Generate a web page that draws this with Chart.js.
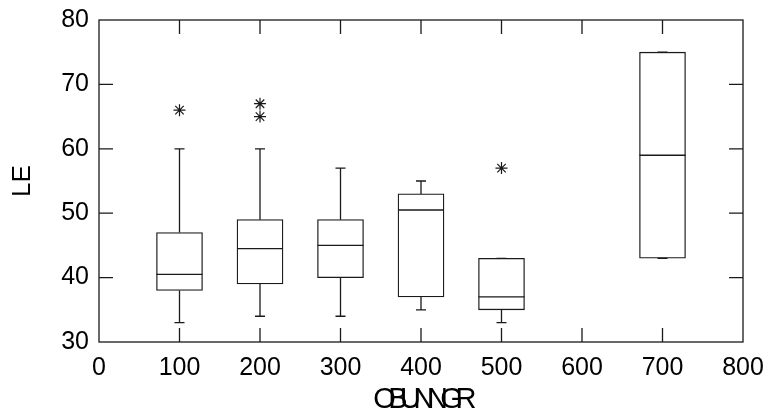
<!DOCTYPE html>
<html>
<head>
<meta charset="utf-8">
<script src="https://cdn.jsdelivr.net/npm/chart.js@4"></script>
<style>
  html, body { margin:0; padding:0; background:#fff; }
  #wrap { width:764px; height:419px; }
</style>
</head>
<body>
<div id="wrap"><canvas id="box"></canvas></div>
<script>
// box plot values
const GROUPS = [100, 200, 300, 400, 500, 700];
const LOW    = [33, 34, 34, 35, 33, 43];
const Q1     = [38, 39, 40, 37, 35, 43];
const MEDIAN = [40.5, 44.5, 45, 50.5, 37, 59];
const Q3     = [47, 49, 49, 53, 43, 75];
const HIGH   = [60, 60, 57, 55, 43, 75];
const OUTLIER_X = [100, 200, 200, 500];
const OUTLIER_Y = [66, 67, 65, 57];

const INK = "#1a1a1a";
const FONT = "'Liberation Sans', Arial, sans-serif";

// the original axis title is condensed: tighten letter spacing for one draw method of a scale
function squeeze(scale, method, px){
  const key = "_sq_" + method;
  if (scale[key]) return;
  const orig = scale[method];
  scale[method] = function(...args){
    const c = this.ctx;
    c.save();
    c.letterSpacing = px;
    orig.apply(this, args);
    c.restore();
  };
  scale[key] = true;
}

// whiskers, caps and medians on top of the bars
const whiskers = {
  id: "whiskers",
  afterDatasetsDraw(chart){
    const { ctx, scales:{ x, y } } = chart;
    const bars = chart.getDatasetMeta(0).data;
    ctx.save();
    ctx.strokeStyle = INK;
    ctx.lineWidth = 1.3;
    GROUPS.forEach((g, i) => {
      const cx = x.getPixelForValue(g);
      const half = bars[i].width / 2;
      const cap = 5;
      ctx.beginPath();
      ctx.moveTo(cx - half, y.getPixelForValue(MEDIAN[i]));
      ctx.lineTo(cx + half, y.getPixelForValue(MEDIAN[i]));
      ctx.moveTo(cx, y.getPixelForValue(Q3[i]));
      ctx.lineTo(cx, y.getPixelForValue(HIGH[i]));
      ctx.moveTo(cx, y.getPixelForValue(Q1[i]));
      ctx.lineTo(cx, y.getPixelForValue(LOW[i]));
      ctx.moveTo(cx - cap, y.getPixelForValue(HIGH[i]));
      ctx.lineTo(cx + cap, y.getPixelForValue(HIGH[i]));
      ctx.moveTo(cx - cap, y.getPixelForValue(LOW[i]));
      ctx.lineTo(cx + cap, y.getPixelForValue(LOW[i]));
      ctx.stroke();
    });
    ctx.restore();
  }
};

// closed frame with inward tick marks on all four sides
const frame = {
  id: "frame",
  afterDraw(chart){
    const { ctx, chartArea:a, scales:{ x, y } } = chart;
    const len = 14;
    ctx.save();
    ctx.strokeStyle = INK;
    ctx.lineWidth = 1.3;
    ctx.strokeRect(a.left, a.top, a.right - a.left, a.bottom - a.top);
    ctx.beginPath();
    x.ticks.slice(1, -1).forEach(t => {
      const px = x.getPixelForValue(t.value);
      ctx.moveTo(px, a.bottom); ctx.lineTo(px, a.bottom - len);
      ctx.moveTo(px, a.top);    ctx.lineTo(px, a.top + len);
    });
    y.ticks.slice(1, -1).forEach(t => {
      const py = y.getPixelForValue(t.value);
      ctx.moveTo(a.left, py);  ctx.lineTo(a.left + len, py);
      ctx.moveTo(a.right, py); ctx.lineTo(a.right - len, py);
    });
    ctx.stroke();
    ctx.restore();
  }
};

new Chart(document.getElementById("box"), {
  type: "bar",
  data: {
    datasets: [
      {
        label: "box",
        data: GROUPS.map((g, i) => ({ x: g, y: [Q1[i], Q3[i]] })),
        backgroundColor: "#fff",
        borderColor: INK,
        borderWidth: 1.3,
        borderSkipped: false,
        barThickness: 46
      },
      {
        type: "scatter",
        label: "outliers",
        data: OUTLIER_X.map((v, i) => ({ x: v, y: OUTLIER_Y[i] })),
        pointStyle: "star",
        radius: 6,
        borderColor: INK,
        borderWidth: 1.2,
        backgroundColor: INK
      }
    ]
  },
  options: {
    responsive: true,
    maintainAspectRatio: false,
    animation: false,
    layout: { padding: 0 },
    plugins: { legend: { display: false }, tooltip: { enabled: false } },
    scales: {
      x: {
        type: "linear",
        z: 1, // drawn last so the squeezed title does not affect other text
        offset: false,
        min: 0, max: 800,
        ticks: { stepSize: 100, color: "#000", padding: 11, maxRotation: 0, font: { family: FONT, size: 25 } },
        grid: { display: false, drawTicks: false },
        border: { display: false },
        title: { display: true, text: "OBUNNGR", color: "#000", padding: 4.5, font: { family: FONT, size: 29, lineHeight: 1 } },
        afterFit: (s) => {
          s.height = 77; s.paddingLeft = 0; s.paddingRight = 21;
          squeeze(s, "drawTitle", "-7.5px");
        }
      },
      y: {
        min: 30, max: 80,
        ticks: { stepSize: 10, color: "#000", padding: 10, font: { family: FONT, size: 25 } },
        grid: { display: false, drawTicks: false },
        border: { display: false },
        title: { display: true, text: "LE", color: "#000", padding: 10, font: { family: FONT, size: 26, lineHeight: 1 } },
        afterFit: (s) => { s.width = 99; s.paddingTop = 20; s.paddingBottom = 0; }
      }
    }
  },
  plugins: [whiskers, frame]
});
</script>
</body>
</html>
